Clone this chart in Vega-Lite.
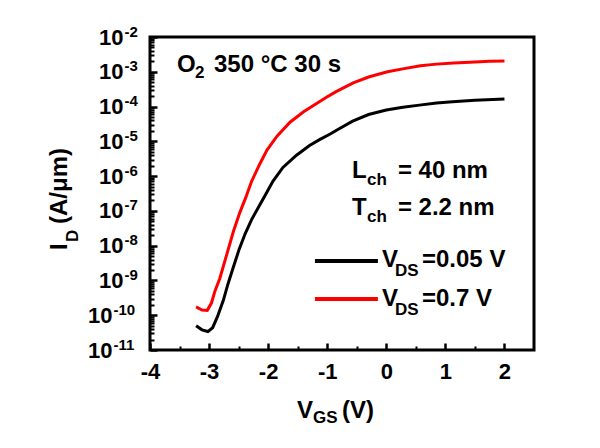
{
  "$schema": "https://vega.github.io/schema/vega-lite/v6.json",
  "width": 384,
  "height": 313,
  "autosize": {"type": "none"},
  "padding": {"left": 150, "top": 37, "right": 66, "bottom": 98},
  "background": "white",
  "config": {
    "view": {"stroke": "black", "strokeWidth": 3},
    "text": {"font": "Liberation Sans", "fontWeight": "bold", "fill": "black"},
    "axis": {"labelFont": "Liberation Sans", "labelFontWeight": "bold", "labelColor": "black", "labelOverlap": false, "labelFlush": false, "grid": false, "domain": false, "title": null}
  },
  "datasets": {
    "curves": [
      {"series": "VDS=0.7 V", "x": -3.22, "y": 1.74e-10},
      {"series": "VDS=0.7 V", "x": -3.12, "y": 1.41e-10},
      {"series": "VDS=0.7 V", "x": -3.03, "y": 1.38e-10},
      {"series": "VDS=0.7 V", "x": -2.96, "y": 2.24e-10},
      {"series": "VDS=0.7 V", "x": -2.90, "y": 5.01e-10},
      {"series": "VDS=0.7 V", "x": -2.82, "y": 1.12e-9},
      {"series": "VDS=0.7 V", "x": -2.70, "y": 5.62e-9},
      {"series": "VDS=0.7 V", "x": -2.59, "y": 2.51e-8},
      {"series": "VDS=0.7 V", "x": -2.48, "y": 8.91e-8},
      {"series": "VDS=0.7 V", "x": -2.38, "y": 2.40e-7},
      {"series": "VDS=0.7 V", "x": -2.28, "y": 7.08e-7},
      {"series": "VDS=0.7 V", "x": -2.15, "y": 2.09e-6},
      {"series": "VDS=0.7 V", "x": -2.02, "y": 5.62e-6},
      {"series": "VDS=0.7 V", "x": -1.85, "y": 1.41e-5},
      {"series": "VDS=0.7 V", "x": -1.63, "y": 3.55e-5},
      {"series": "VDS=0.7 V", "x": -1.40, "y": 7.08e-5},
      {"series": "VDS=0.7 V", "x": -1.20, "y": 1.17e-4},
      {"series": "VDS=0.7 V", "x": -1.02, "y": 1.82e-4},
      {"series": "VDS=0.7 V", "x": -0.85, "y": 2.69e-4},
      {"series": "VDS=0.7 V", "x": -0.56, "y": 4.79e-4},
      {"series": "VDS=0.7 V", "x": -0.30, "y": 7.08e-4},
      {"series": "VDS=0.7 V", "x": 0.02, "y": 1.0e-3},
      {"series": "VDS=0.7 V", "x": 0.30, "y": 1.23e-3},
      {"series": "VDS=0.7 V", "x": 0.58, "y": 1.48e-3},
      {"series": "VDS=0.7 V", "x": 0.85, "y": 1.66e-3},
      {"series": "VDS=0.7 V", "x": 1.14, "y": 1.78e-3},
      {"series": "VDS=0.7 V", "x": 1.50, "y": 1.91e-3},
      {"series": "VDS=0.7 V", "x": 1.75, "y": 2.0e-3},
      {"series": "VDS=0.7 V", "x": 2.0, "y": 2.04e-3},
      {"series": "VDS=0.05 V", "x": -3.22, "y": 5.01e-11},
      {"series": "VDS=0.05 V", "x": -3.12, "y": 3.80e-11},
      {"series": "VDS=0.05 V", "x": -3.02, "y": 3.39e-11},
      {"series": "VDS=0.05 V", "x": -2.94, "y": 4.37e-11},
      {"series": "VDS=0.05 V", "x": -2.86, "y": 8.91e-11},
      {"series": "VDS=0.05 V", "x": -2.76, "y": 2.63e-10},
      {"series": "VDS=0.05 V", "x": -2.68, "y": 7.94e-10},
      {"series": "VDS=0.05 V", "x": -2.59, "y": 2.40e-9},
      {"series": "VDS=0.05 V", "x": -2.49, "y": 7.94e-9},
      {"series": "VDS=0.05 V", "x": -2.39, "y": 2.19e-8},
      {"series": "VDS=0.05 V", "x": -2.28, "y": 5.62e-8},
      {"series": "VDS=0.05 V", "x": -2.15, "y": 1.41e-7},
      {"series": "VDS=0.05 V", "x": -2.05, "y": 2.82e-7},
      {"series": "VDS=0.05 V", "x": -1.92, "y": 7.08e-7},
      {"series": "VDS=0.05 V", "x": -1.75, "y": 1.78e-6},
      {"series": "VDS=0.05 V", "x": -1.52, "y": 3.98e-6},
      {"series": "VDS=0.05 V", "x": -1.30, "y": 7.59e-6},
      {"series": "VDS=0.05 V", "x": -1.13, "y": 1.12e-5},
      {"series": "VDS=0.05 V", "x": -0.95, "y": 1.62e-5},
      {"series": "VDS=0.05 V", "x": -0.82, "y": 2.19e-5},
      {"series": "VDS=0.05 V", "x": -0.57, "y": 3.80e-5},
      {"series": "VDS=0.05 V", "x": -0.30, "y": 5.89e-5},
      {"series": "VDS=0.05 V", "x": 0.0, "y": 7.94e-5},
      {"series": "VDS=0.05 V", "x": 0.28, "y": 9.55e-5},
      {"series": "VDS=0.05 V", "x": 0.56, "y": 1.10e-4},
      {"series": "VDS=0.05 V", "x": 0.85, "y": 1.26e-4},
      {"series": "VDS=0.05 V", "x": 1.12, "y": 1.38e-4},
      {"series": "VDS=0.05 V", "x": 1.50, "y": 1.51e-4},
      {"series": "VDS=0.05 V", "x": 2.0, "y": 1.66e-4}
    ],
    "legend": [
      {"series": "VDS=0.05 V", "x": -1.208, "x2": -0.142, "y": 3.63e-9},
      {"series": "VDS=0.7 V", "x": -1.208, "x2": -0.142, "y": 2.93e-10}
    ],
    "main": [
      {"x": -3.543, "y": 9.86e-4, "text": "O"},
      {"x": -2.917, "y": 9.86e-4, "text": "350 °C 30 s"},
      {"x": -0.582, "y": 8.83e-7, "text": "L"},
      {"x": 0.196, "y": 8.83e-7, "text": "= 40 nm"},
      {"x": -0.582, "y": 7.62e-8, "text": "T"},
      {"x": 0.196, "y": 7.62e-8, "text": "= 2.2 nm"},
      {"x": -0.073, "y": 2.44e-9, "text": "V"},
      {"x": 0.604, "y": 2.44e-9, "text": "=0.05 V"},
      {"x": -0.073, "y": 1.85e-10, "text": "V"},
      {"x": 0.604, "y": 1.85e-10, "text": "=0.7 V"},
      {"x": -1.513, "y": 1.11e-13, "text": "V"},
      {"x": -0.751, "y": 1.11e-13, "text": "(V)"}
    ],
    "sub": [
      {"x": -3.239, "y": 6.62e-4, "text": "2"},
      {"x": -0.328, "y": 5.56e-7, "text": "ch"},
      {"x": -0.328, "y": 4.80e-8, "text": "ch"},
      {"x": 0.147, "y": 1.34e-9, "text": "DS"},
      {"x": 0.147, "y": 1.02e-10, "text": "DS"},
      {"x": -1.242, "y": 7.98e-14, "text": "GS"}
    ],
    "ytm": [
      {"x": -5.405, "y": 7.52e-9, "text": "I"},
      {"x": -5.405, "y": 4.20e-8, "text": "(A/μm)"}
    ],
    "yts": [
      {"x": -5.219, "y": 1.28e-8, "text": "D"}
    ]
  },
  "resolve": {"axis": {"x": "independent", "y": "independent"}},
  "encoding": {
    "x": {"field": "x", "type": "quantitative", "scale": {"domain": [-4, 2.5], "nice": false, "zero": false}, "axis": null},
    "y": {"field": "y", "type": "quantitative", "scale": {"type": "log", "domain": [1e-11, 1e-2], "nice": false}, "axis": null}
  },
  "layer": [
    {
      "data": {"name": "curves"},
      "mark": {"type": "line", "strokeWidth": 3},
      "encoding": {
        "x": {"field": "x", "type": "quantitative", "scale": {"domain": [-4, 2.5], "nice": false, "zero": false},
          "axis": {"orient": "bottom", "values": [-4, -3, -2, -1, 0, 1, 2], "ticks": false,
            "labelFontSize": 22, "labelPadding": 11, "labelExpr": "'' + datum.value"}},
        "y": {"field": "y", "type": "quantitative", "scale": {"type": "log", "domain": [1e-11, 1e-2], "nice": false},
          "axis": {"orient": "left", "values": [1e-11, 1e-10], "ticks": false, "labelFontSize": 15, "labelAlign": "left",
            "labelBaseline": "alphabetic", "labelPadding": 37, "labelOffset": -1, "labelExpr": "'' + round(log(datum.value) / LN10)"}},
        "color": {"field": "series", "type": "nominal", "scale": {"domain": ["VDS=0.05 V", "VDS=0.7 V"], "range": ["#000000", "#ff0000"]}, "legend": null}
      }
    },
    {
      "data": {"name": "legend"},
      "mark": {"type": "rule", "strokeWidth": 4},
      "encoding": {
        "x": {"field": "x", "type": "quantitative", "scale": {"domain": [-4, 2.5], "nice": false, "zero": false},
          "axis": {"orient": "bottom", "values": [-4, -3, -2, -1, 0, 1, 2], "labels": false, "ticks": true,
            "tickSize": -7, "tickWidth": 2.5, "tickColor": "black"}},
        "x2": {"field": "x2"},
        "y": {"field": "y", "type": "quantitative", "scale": {"type": "log", "domain": [1e-11, 1e-2], "nice": false},
          "axis": {"orient": "left", "values": [1e-11, 1e-10, 1e-9, 1e-8, 1e-7, 1e-6, 1e-5, 1e-4, 1e-3, 1e-2], "labels": false, "ticks": true,
            "tickSize": -7, "tickWidth": 2.5, "tickColor": "black"}},
        "color": {"field": "series", "type": "nominal", "scale": {"domain": ["VDS=0.05 V", "VDS=0.7 V"], "range": ["#000000", "#ff0000"]}, "legend": null}
      }
    },
    {
      "data": {"name": "main"},
      "mark": {"type": "text", "fontSize": 24, "align": "left", "baseline": "alphabetic", "fill": "black"},
      "encoding": {
        "x": {"field": "x", "type": "quantitative", "scale": {"domain": [-4, 2.5], "nice": false, "zero": false},
          "axis": {"orient": "bottom", "values": [-3.5, -2.5, -1.5, -0.5, 0.5, 1.5], "labels": false, "ticks": true,
            "tickSize": -4, "tickWidth": 2, "tickColor": "black"}},
        "y": {"field": "y", "type": "quantitative", "scale": {"type": "log", "domain": [1e-11, 1e-2], "nice": false},
          "axis": {"orient": "left", "values": [2e-11, 3e-11, 4e-11, 5e-11, 6e-11, 7e-11, 8e-11, 9e-11, 2e-10, 3e-10, 4e-10, 5e-10, 6e-10, 7e-10, 8e-10, 9e-10, 2e-9, 3e-9, 4e-9, 5e-9, 6e-9, 7e-9, 8e-9, 9e-9, 2e-8, 3e-8, 4e-8, 5e-8, 6e-8, 7e-8, 8e-8, 9e-8, 2e-7, 3e-7, 4e-7, 5e-7, 6e-7, 7e-7, 8e-7, 9e-7, 2e-6, 3e-6, 4e-6, 5e-6, 6e-6, 7e-6, 8e-6, 9e-6, 2e-5, 3e-5, 4e-5, 5e-5, 6e-5, 7e-5, 8e-5, 9e-5, 2e-4, 3e-4, 4e-4, 5e-4, 6e-4, 7e-4, 8e-4, 9e-4, 2e-3, 3e-3, 4e-3, 5e-3, 6e-3, 7e-3, 8e-3, 9e-3],
            "labels": false, "ticks": true, "tickSize": -4, "tickWidth": 2, "tickColor": "black"}},
        "text": {"field": "text"}
      }
    },
    {
      "data": {"name": "sub"},
      "mark": {"type": "text", "fontSize": 17, "align": "left", "baseline": "alphabetic", "fill": "black"},
      "encoding": {
        "y": {"field": "y", "type": "quantitative", "scale": {"type": "log", "domain": [1e-11, 1e-2], "nice": false},
          "axis": {"orient": "left", "values": [1e-9, 1e-8, 1e-7, 1e-6, 1e-5, 1e-4, 1e-3, 1e-2], "ticks": false, "labelFontSize": 22,
            "labelAlign": "right", "labelBaseline": "middle", "labelPadding": 27, "labelExpr": "'10'"}},
        "text": {"field": "text"}
      }
    },
    {
      "data": {"name": "ytm"},
      "mark": {"type": "text", "fontSize": 24, "align": "left", "baseline": "alphabetic", "angle": 270, "fill": "black"},
      "encoding": {
        "y": {"field": "y", "type": "quantitative", "scale": {"type": "log", "domain": [1e-11, 1e-2], "nice": false},
          "axis": {"orient": "left", "values": [1e-11, 1e-10], "ticks": false, "labelFontSize": 22,
            "labelAlign": "right", "labelBaseline": "middle", "labelPadding": 38, "labelExpr": "'10'"}},
        "text": {"field": "text"}
      }
    },
    {
      "data": {"name": "yts"},
      "mark": {"type": "text", "fontSize": 17, "align": "left", "baseline": "alphabetic", "angle": 270, "fill": "black"},
      "encoding": {
        "y": {"field": "y", "type": "quantitative", "scale": {"type": "log", "domain": [1e-11, 1e-2], "nice": false},
          "axis": {"orient": "left", "values": [1e-9, 1e-8, 1e-7, 1e-6, 1e-5, 1e-4, 1e-3, 1e-2], "ticks": false, "labelFontSize": 15,
            "labelAlign": "left", "labelBaseline": "alphabetic", "labelPadding": 26, "labelOffset": -1, "labelExpr": "'' + round(log(datum.value) / LN10)"}},
        "text": {"field": "text"}
      }
    }
  ]
}
